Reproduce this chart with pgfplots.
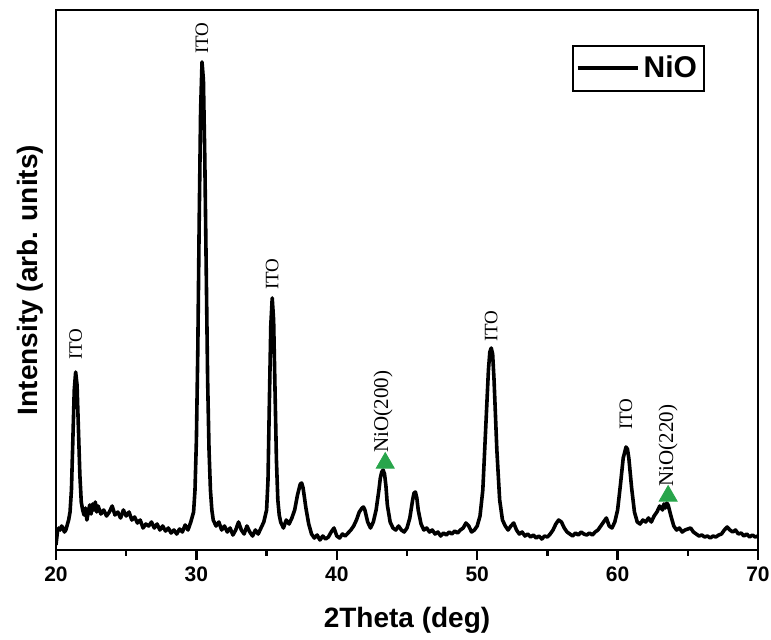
\documentclass[border=0pt]{standalone}
\usepackage{pgfplots}
\pgfplotsset{compat=1.18}
\usepackage{fontspec}
\setmainfont{Liberation Sans}
\newfontfamily\serifann{Liberation Serif}
\usetikzlibrary{calc}
\definecolor{triG}{RGB}{40,165,75}
\begin{document}
\begin{tikzpicture}
\begin{axis}[
  scale only axis, width=351pt, height=270pt,
  xmin=20, xmax=70, ymin=0, ymax=540,
  xtick={20,30,40,50,60,70}, minor x tick num=1,
  ytick=\empty, xtick pos=bottom, tick align=outside,
  major tick length=5pt, minor tick length=2.8pt,
  axis line style={line width=1.4pt},
  every tick/.style={line width=1.2pt, black},
  tick label style={font=\fontsize{10.5}{12}\selectfont\bfseries},
  /pgf/number format/assume math mode=true,
  xlabel={\textbf{2Theta (deg)}},
  ylabel={\textbf{Intensity (arb. units)}},
  label style={font=\fontsize{14}{16}\selectfont},
  xlabel style={at={(axis description cs:0.5,-0.13)}, anchor=center},
  ylabel style={at={(axis description cs:-0.037,0.5)}, anchor=center},
  legend style={at={(0.9245,0.935)}, anchor=north east, draw=black, line width=1pt,
    font=\fontsize{15}{17}\selectfont\bfseries, inner xsep=1.5pt, inner ysep=3pt},
  legend cell align=left,
]
\addplot[black, line width=1.8pt, line join=round,
  legend image code/.code={\draw[line width=2pt] (0pt,0pt) -- (30pt,0pt);}] coordinates {
(20.0,5)(20.1,18)(20.2,22)(20.3,20)(20.4,24)(20.5,22)(20.6,18)(20.7,20)(20.8,25)(20.9,30)
(21.0,38)(21.1,60)(21.2,110)(21.3,160)(21.4,178)(21.5,165)(21.6,120)(21.7,75)(21.8,48)(21.9,40)
(22.0,35)(22.1,42)(22.2,30)(22.3,38)(22.4,45)(22.5,36)(22.6,46)(22.7,40)(22.8,48)(22.9,38)
(23.0,44)(23.2,36)(23.4,40)(23.6,34)(23.8,38)(24.0,44)(24.2,35)(24.4,38)(24.6,32)(24.8,40)
(25.0,34)(25.2,38)(25.4,30)(25.6,33)(25.8,27)(26.0,30)(26.2,22)(26.4,26)(26.6,24)(26.8,28)
(27.0,22)(27.2,26)(27.4,20)(27.6,24)(27.8,19)(28.0,22)(28.2,17)(28.4,20)(28.6,16)(28.8,21)
(29.0,18)(29.2,25)(29.4,20)(29.6,28)(29.8,38)(29.9,60)(30.0,110)(30.1,200)(30.2,330)(30.3,440)
(30.4,488)(30.5,470)(30.6,390)(30.7,280)(30.8,170)(30.9,100)(31.0,60)(31.1,40)(31.2,30)(31.4,24)
(31.6,28)(31.8,20)(32.0,24)(32.2,18)(32.4,22)(32.6,15)(32.8,20)(33.0,28)(33.2,20)(33.4,16)
(33.6,24)(33.8,18)(34.0,14)(34.2,20)(34.4,16)(34.6,22)(34.8,28)(35.0,40)(35.1,70)(35.2,150)
(35.3,225)(35.4,252)(35.5,230)(35.6,160)(35.7,90)(35.8,50)(35.9,35)(36.0,28)(36.2,22)(36.4,30)
(36.6,26)(36.8,32)(37.0,40)(37.2,55)(37.4,66)(37.5,67)(37.6,62)(37.8,42)(38.0,26)(38.2,16)
(38.4,12)(38.6,15)(38.8,10)(39.0,14)(39.2,11)(39.4,13)(39.6,18)(39.8,22)(40.0,14)(40.2,12)
(40.4,16)(40.6,14)(40.8,17)(41.0,20)(41.2,24)(41.4,30)(41.6,38)(41.8,42)(41.9,43)(42.0,40)
(42.2,28)(42.4,22)(42.6,28)(42.8,40)(43.0,60)(43.1,72)(43.2,78)(43.3,80)(43.4,76)(43.5,64)
(43.6,45)(43.8,28)(44.0,22)(44.2,20)(44.4,24)(44.6,20)(44.8,18)(45.0,22)(45.2,32)(45.4,50)
(45.5,57)(45.6,58)(45.7,52)(45.8,40)(46.0,26)(46.2,20)(46.4,22)(46.6,18)(46.8,20)(47.0,16)
(47.2,18)(47.4,14)(47.6,17)(47.8,15)(48.0,18)(48.2,16)(48.4,19)(48.6,17)(48.8,20)(49.0,22)
(49.2,27)(49.4,24)(49.6,18)(49.8,20)(50.0,24)(50.2,34)(50.4,60)(50.6,120)(50.8,180)(50.9,198)
(51.0,202)(51.1,196)(51.2,170)(51.4,100)(51.6,50)(51.8,30)(52.0,24)(52.2,20)(52.4,24)(52.6,27)
(52.8,20)(53.0,16)(53.2,18)(53.4,14)(53.6,16)(53.8,13)(54.0,15)(54.2,12)(54.4,14)(54.6,11)
(54.8,14)(55.0,13)(55.2,16)(55.4,20)(55.6,26)(55.8,30)(56.0,28)(56.2,22)(56.4,18)(56.6,16)
(56.8,14)(57.0,17)(57.2,15)(57.4,18)(57.6,16)(57.8,15)(58.0,17)(58.2,15)(58.4,18)(58.6,20)
(58.8,24)(59.0,28)(59.2,32)(59.4,24)(59.6,22)(59.8,28)(60.0,40)(60.2,65)(60.4,92)(60.6,103)
(60.7,101)(60.8,92)(61.0,62)(61.2,38)(61.4,28)(61.6,26)(61.8,30)(62.0,28)(62.2,32)(62.4,28)
(62.6,34)(62.8,38)(63.0,44)(63.2,40)(63.3,46)(63.4,42)(63.5,47)(63.6,45)(63.8,34)(64.0,24)
(64.2,20)(64.4,22)(64.6,18)(64.8,20)(65.0,21)(65.2,22)(65.4,18)(65.6,16)(65.8,14)(66.0,15)
(66.2,13)(66.4,14)(66.6,12)(66.8,14)(67.0,13)(67.2,15)(67.4,16)(67.6,20)(67.8,23)(68.0,20)
(68.2,18)(68.4,20)(68.6,16)(68.8,17)(69.0,14)(69.2,16)(69.4,13)(69.6,15)(69.8,13)(70.0,14)
};
\addlegendentry{NiO}
\addplot[only marks, mark=triangle*, mark size=5.2pt, color=triG, forget plot]
  coordinates {(43.45,87)(63.6,54)};
\begin{scope}[every node/.style={rotate=90, anchor=west, inner sep=0pt,
    font=\serifann\fontsize{9.5}{10}\selectfont}]
\node at (axis cs:21.4,190) {ITO};
\node at (axis cs:30.4,496) {ITO};
\node at (axis cs:35.4,260) {ITO};
\node[font=\serifann\fontsize{10.5}{11}\selectfont] at (axis cs:43.3,97) {NiO(200)};
\node at (axis cs:51.0,208) {ITO};
\node at (axis cs:60.6,120) {ITO};
\node[font=\serifann\fontsize{10.5}{11}\selectfont] at (axis cs:63.6,63) {NiO(220)};
\end{scope}
\coordinate (sw) at (rel axis cs:0,0);
\coordinate (ne) at (rel axis cs:1,1);
\end{axis}
\pgfresetboundingbox
\path[use as bounding box] ($(sw)+(-28pt,-44.5pt)$) rectangle ($(ne)+(6.5pt,5pt)$);
\end{tikzpicture}
\end{document}
